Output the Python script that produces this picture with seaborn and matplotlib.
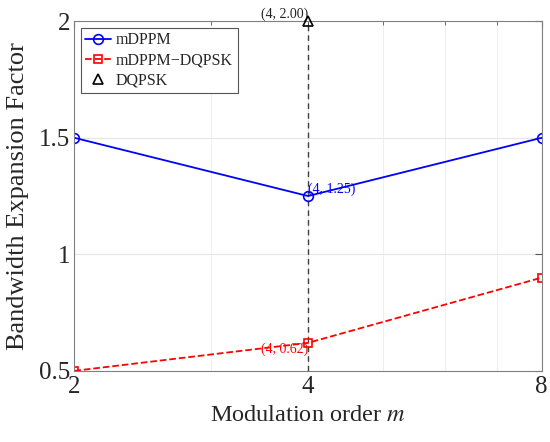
import pandas as pd
import numpy as np
import matplotlib.pyplot as plt
import seaborn as sns
from matplotlib.ticker import FixedLocator, NullFormatter

# Data
m_values = [2, 4, 8]
bef_mdppm = [1.5, 1.25, 1.5]
bef_mdppm_dqpsk = [0.5, 0.62, 0.9]
dqpsk_m = [4]
bef_dqpsk = [2.0]

df = pd.DataFrame({
    'm': m_values * 2,
    'BEF': bef_mdppm + bef_mdppm_dqpsk,
    'Scheme': ['mDPPM'] * 3 + ['mDPPM\u2212DQPSK'] * 3,
})

sns.set_style("whitegrid")
plt.rcParams['font.family'] = ['Liberation Serif', 'DejaVu Serif']
plt.rcParams['mathtext.fontset'] = 'stix'

fig = plt.figure(figsize=(5.5, 4.42), dpi=100)
ax = fig.add_axes([0.135, 0.161, 0.85, 0.791])

ax.set_xscale('log', base=2)

sns.lineplot(data=df[df['Scheme'] == 'mDPPM'], x='m', y='BEF', ax=ax,
             color='#0000ff', lw=1.3, marker='o', markersize=7,
             markerfacecolor='none', markeredgecolor='#0000ff', markeredgewidth=1.2,
             label='mDPPM')
sns.lineplot(data=df[df['Scheme'] != 'mDPPM'], x='m', y='BEF', ax=ax,
             color='#ff0000', lw=1.3, linestyle='--', marker='s', markersize=6,
             markerfacecolor='none', markeredgecolor='#ff0000', markeredgewidth=1.2,
             label='mDPPM\u2212DQPSK')
ax.plot(dqpsk_m, bef_dqpsk, linestyle='none', marker='^', markersize=7,
        markerfacecolor='none', markeredgecolor='black', markeredgewidth=1.2,
        label='DQPSK', clip_on=False, zorder=5)

# vertical reference line at m = 4
ax.axvline(4, color='#404040', lw=1.0, linestyle=(0, (4, 3)), zorder=1)

ax.set_xlim(2, 8)
ax.set_ylim(0.5, 2)
ax.xaxis.set_major_locator(FixedLocator(m_values))
ax.set_xticklabels([str(v) for v in m_values])
ax.xaxis.set_minor_locator(FixedLocator([3, 5, 6, 7]))
ax.xaxis.set_minor_formatter(NullFormatter())
ax.set_yticks([0.5, 1, 1.5, 2])
ax.set_yticklabels(['0.5', '1', '1.5', '2'])

ax.grid(True, which='major', color='#e6e6e6', lw=0.8)
ax.grid(True, which='minor', axis='x', color='#ececec', lw=0.6)
ax.tick_params(which='both', direction='in', top=True, right=True,
               color='#555555', labelsize=18, labelcolor='#262626')
ax.tick_params(axis='x', pad=4)
ax.tick_params(axis='y', pad=3)
ax.tick_params(which='major', length=5)
ax.tick_params(which='minor', length=3)
for s in ax.spines.values():
    s.set_color('#808080')
    s.set_linewidth(0.8)

ax.set_xlabel('Modulation order $m$', fontsize=17.5, labelpad=5, color='#262626')
ax.set_ylabel('Bandwidth Expansion Factor', fontsize=19, labelpad=7, color='#262626')

# data labels
ax.text(4, 2.0, '(4, 2.00)', fontsize=10, color='#222222', ha='right', va='bottom')
ax.text(4, 1.25, '(4, 1.25)', fontsize=10, color='#0000ff', ha='left', va='bottom')
ax.text(4, 0.62, '(4, 0.62)', fontsize=10, color='#ff0000', ha='right', va='top')

leg = ax.legend(loc='upper left', fontsize=11.5, frameon=True, fancybox=False,
                edgecolor='#555555', framealpha=1, borderpad=0.3,
                handlelength=1.6, handletextpad=0.3, labelspacing=0.25,
                borderaxespad=0.4)
leg.get_frame().set_linewidth(0.8)

plt.savefig('out.png', dpi=100)
